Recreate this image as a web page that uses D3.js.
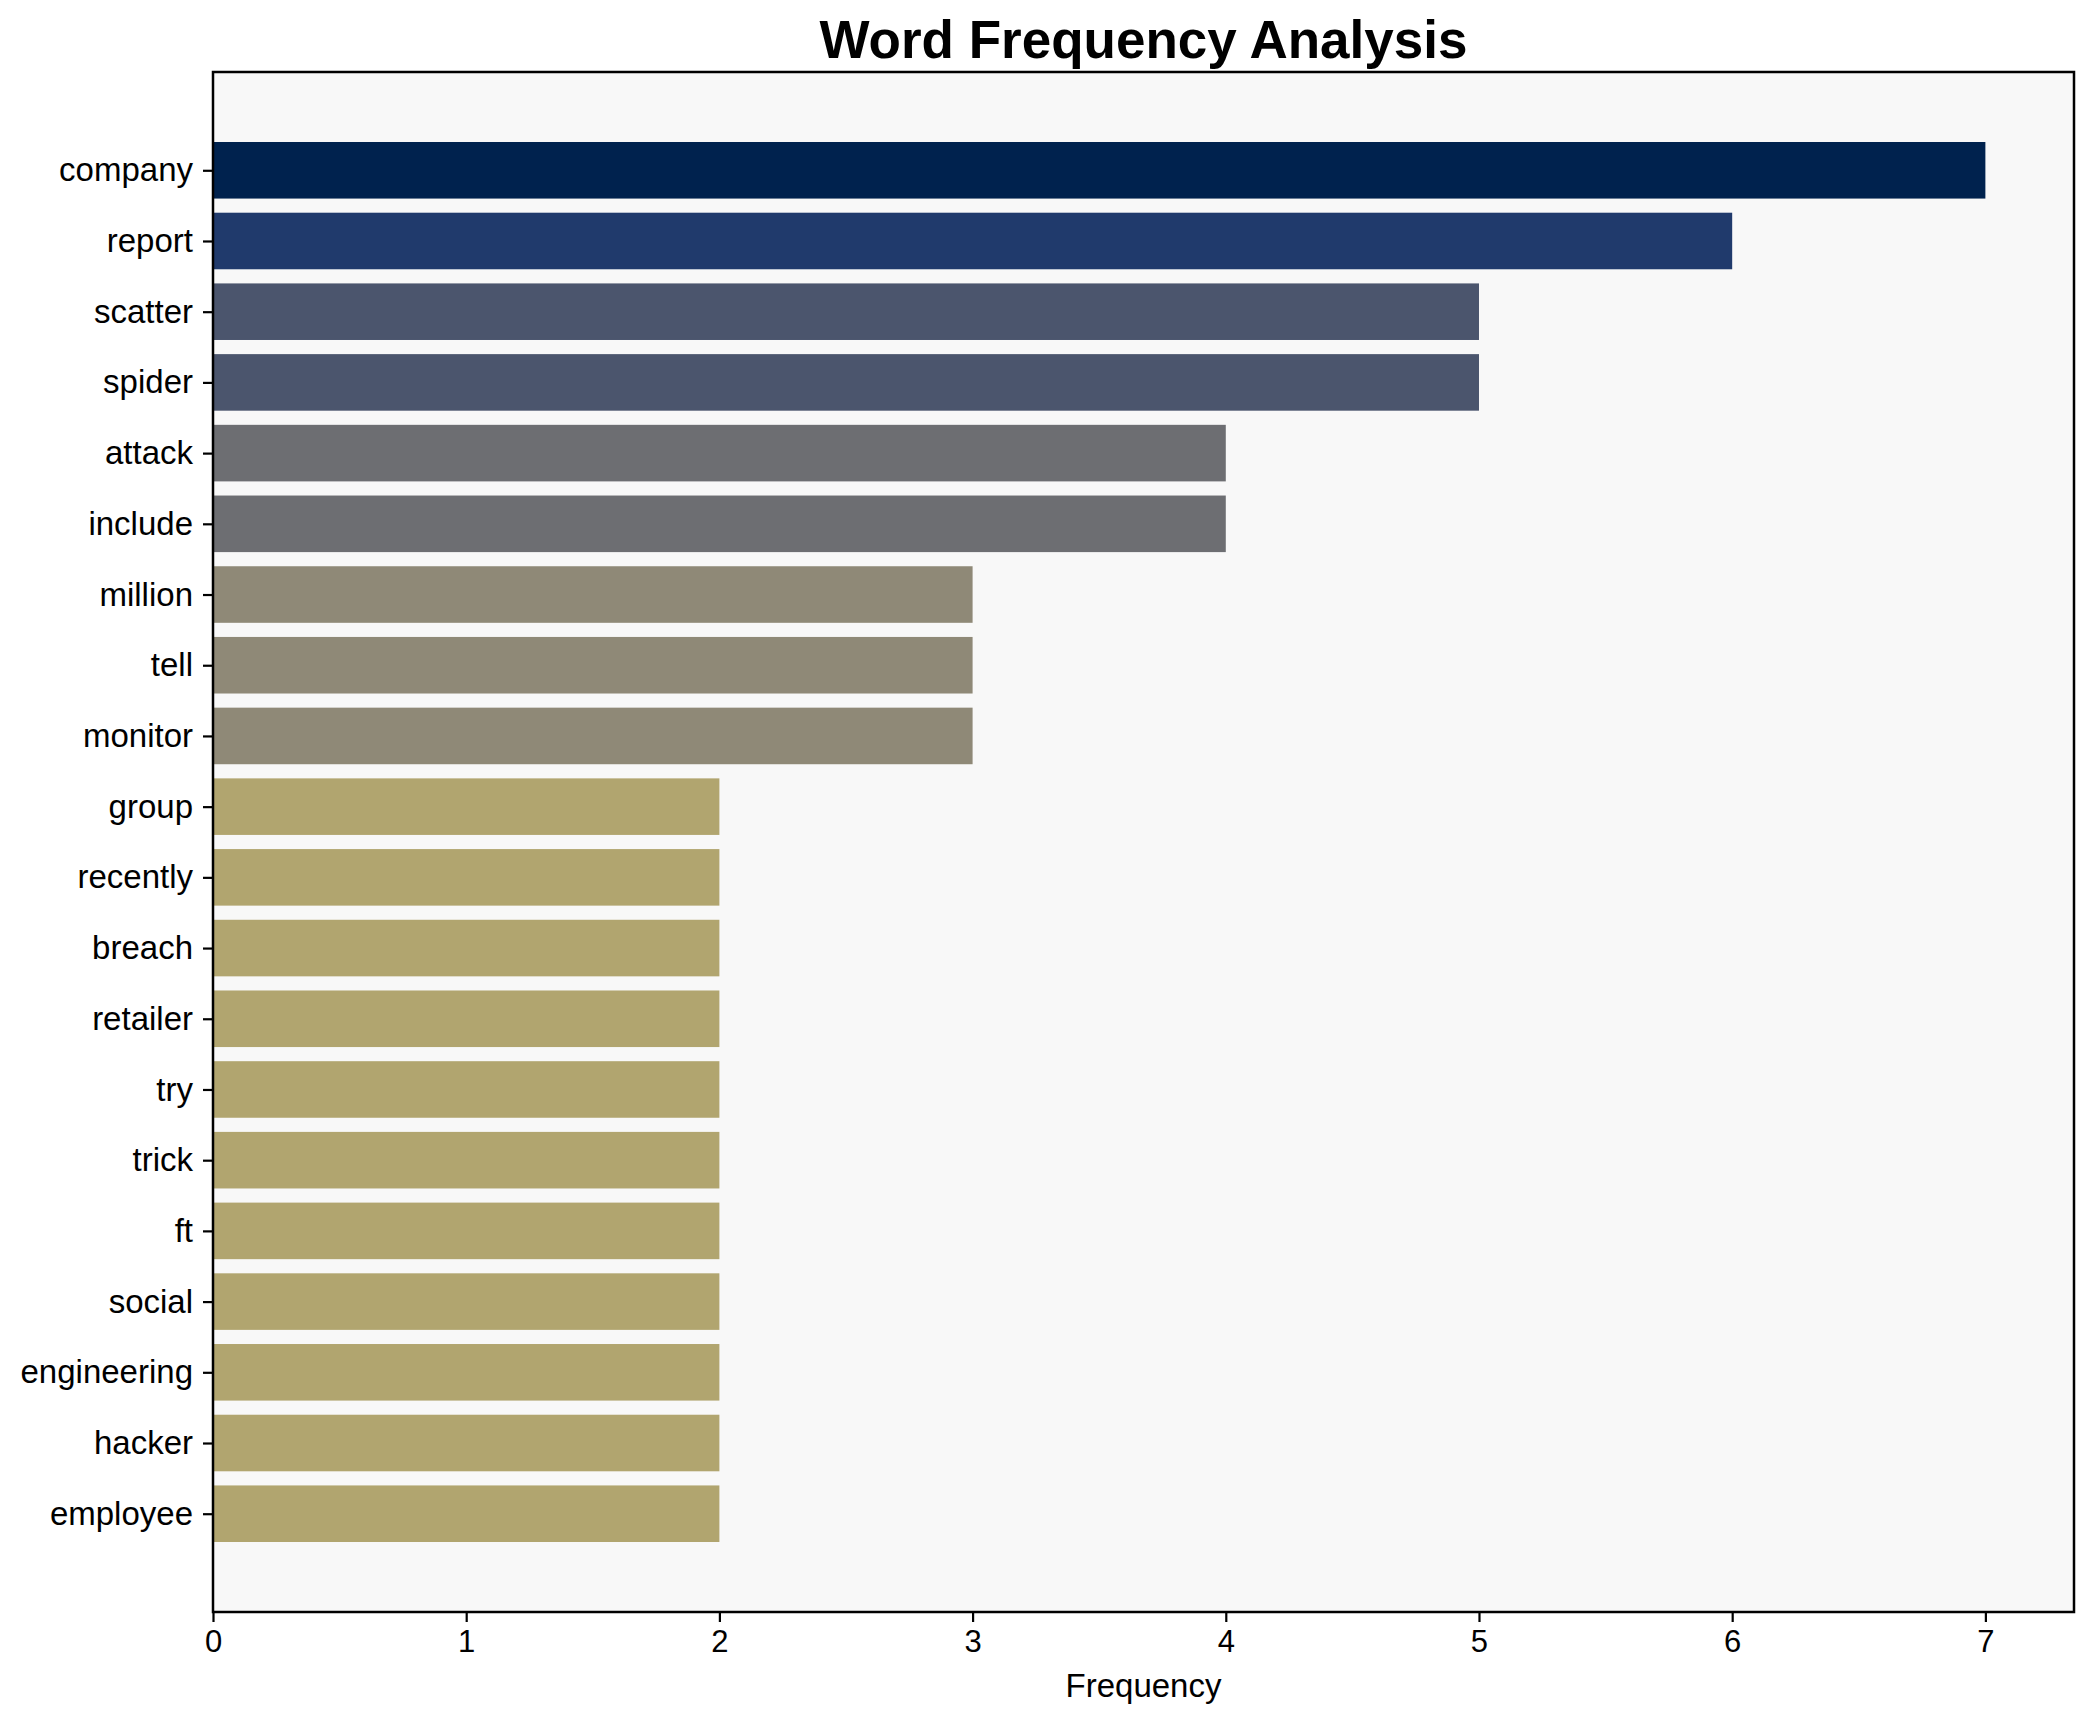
<!DOCTYPE html>
<html>
<head>
<meta charset="utf-8">
<script src="https://cdnjs.cloudflare.com/ajax/libs/d3/7.8.5/d3.min.js"></script>
<style>
  body { margin: 0; background: #fff; }
  svg { display: block; font-family: "Liberation Sans", Arial, sans-serif; }
</style>
</head>
<body>
<svg width="2093" height="1722"></svg>
<script>
var words = ["company", "report", "scatter", "spider", "attack", "include", "million", "tell", "monitor",
    "group", "recently", "breach", "retailer", "try", "trick", "ft", "social", "engineering", "hacker", "employee"];
var counts = [7, 6, 5, 5, 4, 4, 3, 3, 3, 2, 2, 2, 2, 2, 2, 2, 2, 2, 2, 2];
var xTicks = [0, 1, 2, 3, 4, 5, 6, 7];

// one colour per frequency level
var levels = [7, 6, 5, 4, 3, 2];
var levelColors = ["#00224e", "#203a6c", "#4b556d", "#6d6e72", "#8f8977", "#b1a56f"];

var svg = d3.select("svg");
// plot box (note: "top" is taken by window.top)
var plotL = 213, plotR = 2074, plotT = 72, plotB = 1612;

var x = d3.scaleLinear().domain([0, 7.35]).range([plotL, plotR]);
// matplotlib style: bars at 0..n-1, height 0.8, 5% margins
var n = words.length;
var y = d3.scaleLinear().domain([-0.4 - 0.99, n - 1 + 0.4 + 0.99]).range([plotT, plotB]);
var color = d3.scaleOrdinal().domain(levels).range(levelColors);

svg.append("rect")
    .attr("x", plotL).attr("y", plotT)
    .attr("width", plotR - plotL).attr("height", plotB - plotT)
    .style("fill", "#f8f8f8");

svg.selectAll("rect.bar")
    .data(words)
    .enter().append("rect")
    .attr("class", "bar")
    .attr("x", x(0))
    .attr("y", function(d, i){
        return y(i - 0.4);
    })
    .attr("width", function(d, i){
        return x(counts[i]) - x(0);
    })
    .attr("height", function(d, i){
        return y(i + 0.4) - y(i - 0.4);
    })
    .style("fill", function(d, i){
        return color(counts[i]);
    });

// y axis
var yAxis = d3.axisLeft(y).tickValues(d3.range(n)).tickFormat(function(i){ return words[i]; })
    .tickSize(10).tickPadding(10);
var gy = svg.append("g").attr("transform", "translate(" + plotL + ",0)").call(yAxis);
gy.select(".domain").remove();
gy.selectAll("text").style("font-size", "33px").style("fill", "#000");
gy.selectAll("line").style("stroke", "#000").style("stroke-width", 2.2);

// x axis
var xAxis = d3.axisBottom(x).tickValues(xTicks).tickSize(10).tickPadding(8);
var gx = svg.append("g").attr("transform", "translate(0," + plotB + ")").call(xAxis);
gx.select(".domain").remove();
gx.selectAll("text").style("font-size", "31px").style("fill", "#000");
gx.selectAll("line").style("stroke", "#000").style("stroke-width", 2.2);

// frame
svg.append("rect")
    .attr("x", plotL).attr("y", plotT)
    .attr("width", plotR - plotL).attr("height", plotB - plotT)
    .style("fill", "none").style("stroke", "#000").style("stroke-width", 2.5);

svg.append("text")
    .attr("x", (plotL + plotR) / 2).attr("y", 1697)
    .attr("text-anchor", "middle")
    .style("font-size", "33px")
    .text("Frequency");

svg.append("text")
    .attr("x", (plotL + plotR) / 2).attr("y", 58)
    .attr("text-anchor", "middle")
    .style("font-size", "53px").style("font-weight", "bold")
    .text("Word Frequency Analysis");
</script>
</body>
</html>
